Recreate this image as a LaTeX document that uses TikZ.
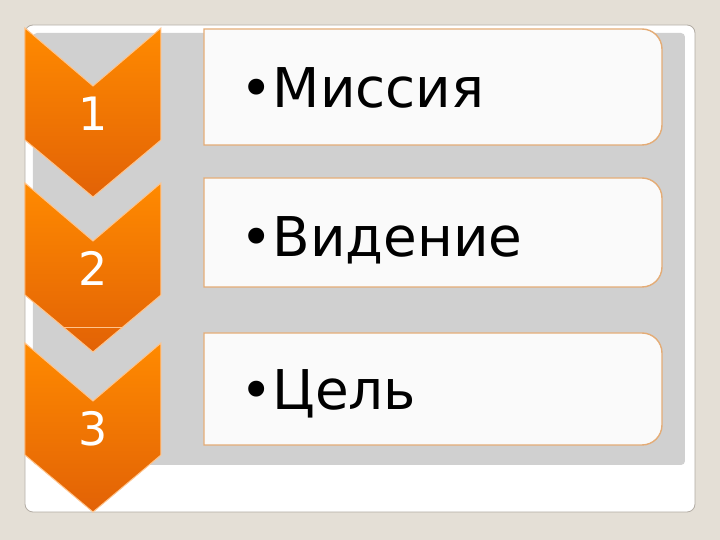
\documentclass[tikz,border=0pt]{standalone}
\usepackage{fontspec}
\setmainfont{DejaVu Sans}
\definecolor{bgbeige}{RGB}{228,223,214}
\definecolor{framegray}{RGB}{178,172,164}
\definecolor{panelgray}{RGB}{208,208,208}
\definecolor{chevtop}{RGB}{255,138,0}
\definecolor{chevbot}{RGB}{226,98,6}
\definecolor{chevedge}{RGB}{255,196,140}
\definecolor{boxwhite}{RGB}{250,250,250}
\definecolor{boxedge}{RGB}{228,172,118}

\begin{document}
\begin{tikzpicture}[x=0.5pt, y=-0.5pt,
    chevron/.style={top color=chevtop, bottom color=chevbot, draw=chevedge, line width=0.5pt},
    box/.style={fill=boxwhite, draw=boxedge, line width=0.7pt},
    label/.style={font=\fontsize{27.4}{33}\selectfont, inner sep=0pt, anchor=base west},
    num/.style={text=white, font=\fontsize{23}{28}\selectfont, inner sep=0pt, anchor=base}
  ]

  % Background and frame
  \fill[bgbeige] (0,0) rectangle (720,540);
  \useasboundingbox (0,0) rectangle (720,540);
  \draw[framegray, fill=white, rounded corners=4pt] (25,25) rectangle (695,512);
  \fill[panelgray, rounded corners=2pt] (33,33) rectangle (685,465);

  % Chevrons
  \foreach \t/\n in {28/1, 183/2, 343/3} {
    \draw[chevron] (25,\t) -- (93,\t+58) -- (161,\t) -- (161,\t+112)
      -- (93,\t+169) -- (25,\t+112) -- cycle;
    \node[num] (step\n) at (93,\t+103) {\n};
  }
  \draw[chevedge, line width=0.5pt] (64,328) -- (122,328);

  % Text boxes
  \foreach \t/\b/\base/\txt [count=\i] in {29/145/108/Миссия, 178/287/257/Видение, 333/445/410/Цель} {
    \draw[box] (204,\b) -- (204,\t) [rounded corners=10pt] -- (662,\t) -- (662,\b)
      [sharp corners] -- cycle;
    \node[label] (item\i) at (240,\base) {•\txt};
  }

\end{tikzpicture}
\end{document}
